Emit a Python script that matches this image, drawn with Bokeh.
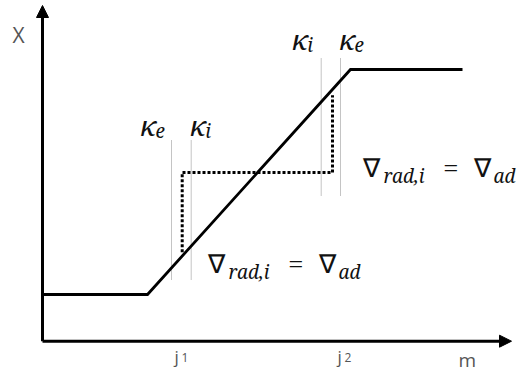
from bokeh.plotting import figure
from bokeh.models import Range1d, Arrow, NormalHead
from bokeh.core.properties import value
from bokeh.embed import file_html
from bokeh.resources import INLINE

# ---- data (schematic units: m along x, X along y) ----
curve_m = [0.0, 10.5, 30.8, 42.0]
curve_X = [4.67, 4.67, 27.17, 27.17]

conv_m = [13.97, 13.97, 29.0, 29.0]
conv_X = [8.9, 16.87, 16.87, 24.6]

kappa_m = [12.9, 14.87, 27.87, 29.8]
kappa_lo = [6.17, 6.17, 14.57, 14.57]
kappa_hi = [20.17, 20.17, 28.37, 28.37]
kappa_sub = ["e", "i", "i", "e"]

axis_m_max = 46.9
axis_X_max = 33.57

j_pos = [13.2, 29.5]
j_labels = ["j", "j"]
j_subs = ["1", "2"]

p = figure(width=520, height=380, output_backend="svg", toolbar_location=None,
           x_range=Range1d(-4.2, 47.8), y_range=Range1d(-3.93, 34.07),
           min_border=0, min_border_left=0, min_border_right=0,
           min_border_top=0, min_border_bottom=0)
p.xaxis.visible = False
p.yaxis.visible = False
p.xgrid.visible = False
p.ygrid.visible = False
p.outline_line_color = None
p.background_fill_color = "white"
p.border_fill_color = "white"

# axes with arrow heads
p.add_layout(Arrow(end=NormalHead(size=12, fill_color="black", line_color="black", line_width=1),
                   x_start=0, y_start=0, x_end=0, y_end=axis_X_max,
                   line_width=3, line_color="black"))
p.add_layout(Arrow(end=NormalHead(size=12, fill_color="black", line_color="black", line_width=1),
                   x_start=0, y_start=0, x_end=axis_m_max, y_end=0,
                   line_width=3, line_color="black"))

# thin kappa boundary lines
p.segment(x0=kappa_m, y0=kappa_lo, x1=kappa_m, y1=kappa_hi,
          line_color="#888888", line_width=1, line_dash="1 1")

# thick dotted convective boundary path
p.line(conv_m, conv_X, line_color="black", line_width=3, line_dash="3 2")

# main curve
p.line(curve_m, curve_X, line_color="black", line_width=2.8, line_join="miter")

mathit = value("Noto Serif")
roman = value("Liberation Serif")
sans = value("Open Sans")
TEXT_SHIFT = 0.8

def txt(x, y, s, size, font=roman, style="normal", color="#111111"):
    p.text(x=[x], y=[y + TEXT_SHIFT], text=[s], text_font=font, text_font_size=value(f"{size}px"),
           text_font_style=style, text_color=color,
           text_align="left", text_baseline="alphabetic")

# kappa labels
k_main = [(kappa_m[0] - 3.1, kappa_hi[0] + 0.7), (kappa_m[1] - 0.1, kappa_hi[1] + 0.7),
          (kappa_m[2] - 2.9, kappa_hi[2] + 1.1), (kappa_m[3] - 0.1, kappa_hi[3] + 1.1)]
for (kx, ky), sub in zip(k_main, kappa_sub):
    txt(kx, ky, "κ", 28, font=mathit, style="italic")
    txt(kx + 1.5, ky - 0.6, sub, 19, font=mathit, style="italic")

# nabla labels
def nabla(x0, y0):
    txt(x0, y0, "∇", 26)
    txt(x0 + 2.1, y0 - 0.7, "rad,i", 19, font=mathit, style="italic")
    txt(x0 + 8.1, y0, "=", 26)
    txt(x0 + 11.1, y0, "∇", 26)
    txt(x0 + 13.1, y0 - 0.7, "ad", 19, font=mathit, style="italic")

nabla(conv_m[2] + 3.0, conv_X[2] - 0.4)
nabla(16.5, 6.87)

# axis labels
txt(-3.0, 29.87, "X", 21, font=sans, color="#555555")
txt(41.6, -2.63, "m", 19, font=sans, color="#555555")
for jx, jl, js in zip(j_pos, j_labels, j_subs):
    txt(jx, -2.33, jl, 17, font=sans, color="#555555")
    txt(jx + 0.7, -2.43, js, 12, font=sans, color="#555555")

open("out.html", "w").write(file_html(p, INLINE))
